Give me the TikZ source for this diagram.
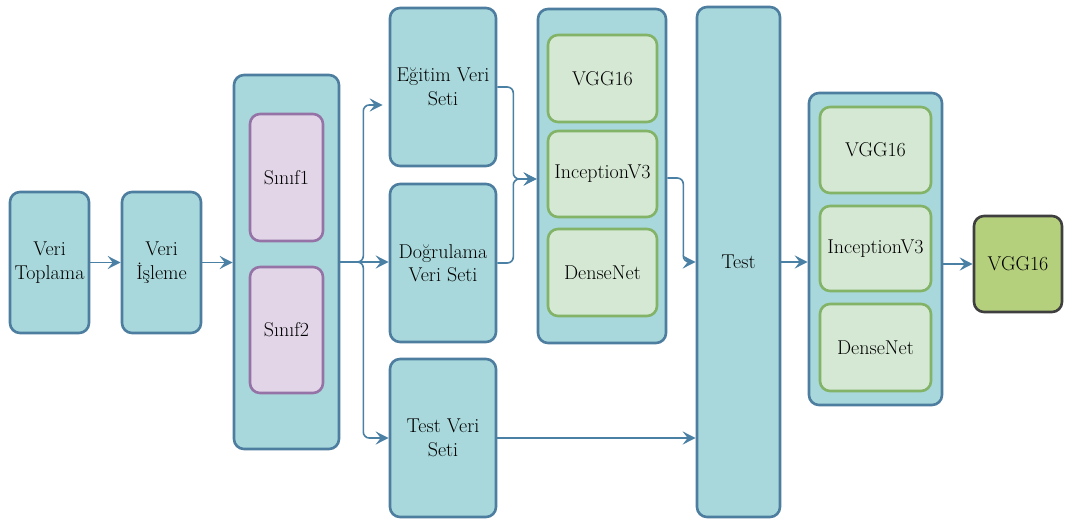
\documentclass[tikz,border=0pt]{standalone}
\usepackage{fontspec}
\usetikzlibrary{arrows.meta}

\definecolor{tealfill}{HTML}{A8D8DB}
\definecolor{tealline}{HTML}{4D7EA0}
\definecolor{purplefill}{HTML}{E1D5E7}
\definecolor{purpleline}{HTML}{9673A6}
\definecolor{greenfill}{HTML}{D5E8D4}
\definecolor{greenline}{HTML}{82B366}
\definecolor{finalfill}{HTML}{B5D07C}
\definecolor{finalline}{HTML}{3F3F3F}
\definecolor{linkcol}{HTML}{4A80A4}

\tikzset{
  basebox/.style={rectangle, rounded corners=10pt, line width=2.6pt, inner sep=2pt,
    align=center, font=\fontsize{20}{23.5}\selectfont, text=black},
  stagebox/.style={basebox, draw=tealline, fill=tealfill},
  classbox/.style={basebox, draw=purpleline, fill=purplefill},
  modelbox/.style={basebox, draw=greenline, fill=greenfill},
  bestbox/.style={basebox, draw=finalline, fill=finalfill},
  link/.style={draw=linkcol, line width=1.6pt, rounded corners=6pt,
    -{Stealth[length=13pt, width=13pt, inset=5pt]}},
}

\begin{document}
\begin{tikzpicture}[x=1pt, y=-1pt]
\useasboundingbox (0,0) rectangle (1065,521);

% data collection and preprocessing
\node[stagebox, minimum width=79pt, minimum height=141pt] (toplama) at (49.5,262.5) {Veri\\Toplama};
\node[stagebox, minimum width=79pt, minimum height=141pt] (isleme) at (161.5,262.5) {Veri\\İşleme};

% classes
\node[stagebox, minimum width=105pt, minimum height=374pt] (siniflar) at (286.5,262) {};
\node[classbox, minimum width=73pt, minimum height=127pt] (sinif1) at (286.5,177.5) {Sınıf1};
\node[classbox, minimum width=73pt, minimum height=126pt] (sinif2) at (286.5,330) {Sınıf2};

% data splits
\node[stagebox, minimum width=106pt, minimum height=158pt] (egitim) at (443,87) {Eğitim Veri\\Seti};
\node[stagebox, minimum width=106pt, minimum height=158pt] (dogrulama) at (443,263) {Doğrulama\\Veri Seti};
\node[stagebox, minimum width=106pt, minimum height=158pt] (testveri) at (443,438) {Test Veri\\Seti};

% training models
\node[stagebox, minimum width=128pt, minimum height=334pt] (modelA) at (602,176) {};
\node[modelbox, minimum width=109pt, minimum height=87pt] (vggA) at (602.5,78.5) {VGG16};
\node[modelbox, minimum width=109pt, minimum height=86pt] (incA) at (602.5,174) {InceptionV3};
\node[modelbox, minimum width=109pt, minimum height=87pt] (denseA) at (602.5,272.5) {DenseNet};

% test stage
\node[stagebox, minimum width=83pt, minimum height=510pt] (test) at (738.5,262) {Test};

% evaluated models
\node[stagebox, minimum width=133pt, minimum height=312pt] (modelB) at (875.5,249) {};
\node[modelbox, minimum width=111pt, minimum height=86pt] (vggB) at (875.5,150) {VGG16};
\node[modelbox, minimum width=111pt, minimum height=85pt] (incB) at (875.5,248.5) {InceptionV3};
\node[modelbox, minimum width=111pt, minimum height=87pt] (denseB) at (875.5,347.5) {DenseNet};

% best model
\node[bestbox, minimum width=88pt, minimum height=96pt] (best) at (1018,264) {VGG16};

% connectors
\coordinate (fork) at ([xshift=23pt]siniflar.east);
\coordinate (intoA) at ([yshift=-3pt]modelA.west);

\draw[link] (toplama.east) -- (isleme.west);
\draw[link] (isleme.east) -- (siniflar.west |- isleme.east);

\draw[link] (siniflar.east) -- (fork) |- ([yshift=-18pt, xshift=-6pt]egitim.west);
\draw[link] (siniflar.east) -- (dogrulama.west |- siniflar.east);
\draw[link] (siniflar.east) -- (fork) |- (testveri.west);

\draw[link] (egitim.east) -- ++(16pt,0) |- (intoA);
\draw[link] (dogrulama.east) -- ++(16pt,0) |- (intoA);

\draw[link] ([yshift=-2pt]modelA.east) -- ++(16pt,0) |- (test.west);
\draw[link] (testveri.east) -- (test.west |- testveri.east);

\draw[link] (test.east) -- (modelB.west |- test.east);
\draw[link] (modelB.east |- best.west) -- (best.west);
\end{tikzpicture}
\end{document}
